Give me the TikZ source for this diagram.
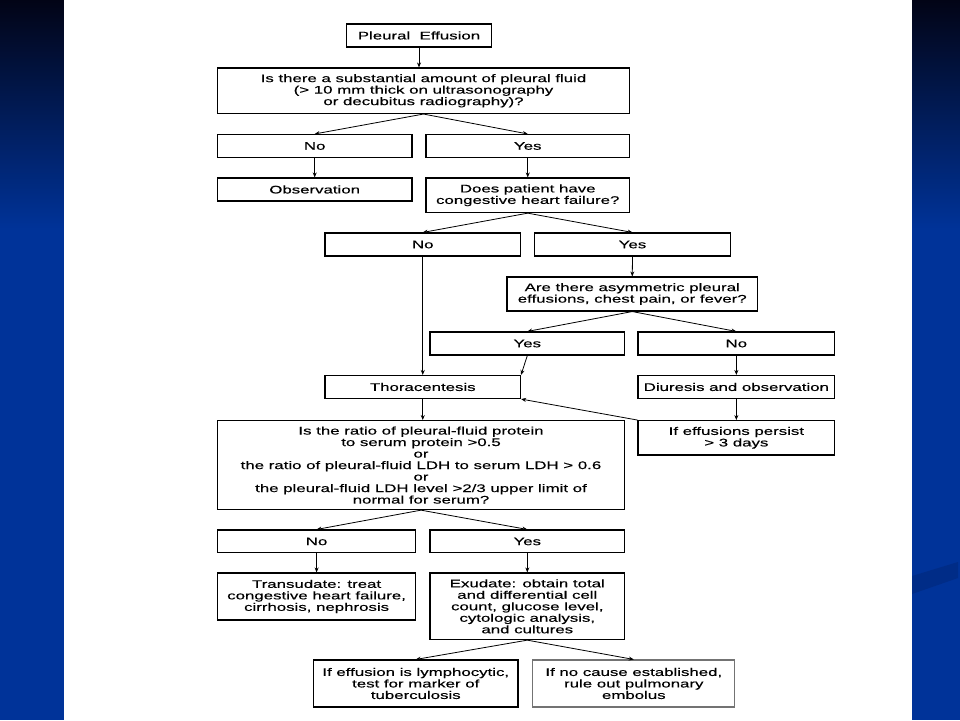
\documentclass[tikz,border=0pt]{standalone}
\usepackage{fontspec}
\newfontfamily\chartfont{Liberation Sans}[FakeStretch=1.53,FakeBold=0.35]
\usetikzlibrary{arrows.meta,calc}
\definecolor{slideblue}{RGB}{0,51,153}
\definecolor{slidetop}{RGB}{2,4,22}
\definecolor{swoosh}{RGB}{0,44,135}
\begin{document}
\begin{tikzpicture}[x=1pt,y=-1pt,
  box/.style={draw=black,line width=1.1pt,fill=white,inner sep=0pt,align=center,
    font=\chartfont\fontsize{11}{11.5}\selectfont},
  graybox/.style={box,draw=black!55},
  conn/.style={line width=0.8pt,-{Stealth[length=5pt,width=4pt]}}]
\useasboundingbox (0,0) rectangle (960,720);
% background
\fill[slideblue] (0,0) rectangle (960,720);
\shade[top color=slidetop,bottom color=slideblue] (0,0) rectangle (960,230);
\fill[swoosh] (912,576) -- (958,562) -- (958,578) -- (912,594) -- cycle;
\fill[white] (64,0) rectangle (912,720);
% nodes
\node[box,minimum width=145pt,minimum height=23pt] (pe) at (419,35.5) {Pleural\ \ Effusion};
\node[box,minimum width=412pt,minimum height=45.5pt] (q1) at (423.5,90.75)
  {Is there a substantial amount of pleural fluid\\(> 10 mm thick on ultrasonography\\or decubitus radiography)?};
\node[box,minimum width=194.6pt,minimum height=23pt] (no1) at (314.7,146) {No};
\node[box,minimum width=203.5pt,minimum height=23pt] (yes1) at (527.75,146) {Yes};
\node[box,minimum width=194.6pt,minimum height=23pt] (obs) at (314.7,189.5) {Observation};
\node[box,minimum width=203.5pt,minimum height=34.6pt] (does) at (527.75,195.3)
  {Does patient have\\congestive heart failure?};
\node[box,minimum width=195.5pt,minimum height=23pt] (no2) at (422.75,244.5) {No};
\node[box,minimum width=196pt,minimum height=23pt] (yes2) at (632.5,244.5) {Yes};
\node[box,minimum width=250.5pt,minimum height=34pt] (are) at (632.25,294)
  {Are there asymmetric pleural\\effusions, chest pain, or fever?};
\node[box,minimum width=194.6pt,minimum height=23pt] (yes3) at (527.3,343.5) {Yes};
\node[box,minimum width=196.7pt,minimum height=23pt] (no3) at (736.35,343.5) {No};
\node[box,minimum width=195.5pt,minimum height=23pt] (thora) at (422.75,387) {Thoracentesis};
\node[box,minimum width=196.7pt,minimum height=23pt] (diur) at (736.35,387) {Diuresis and observation};
\node[box,minimum width=196.7pt,minimum height=34.4pt] (persist) at (736.35,437.8)
  {If effusions persist\\> 3 days};
\node[box,minimum width=407.2pt,minimum height=89pt] (q2) at (421,465.1)
  {Is the ratio of pleural-fluid protein\\to serum protein >0.5\\or\\the ratio of pleural-fluid LDH to serum LDH > 0.6\\or\\the pleural-fluid LDH level >2/3 upper limit of\\normal for serum?};
\node[box,minimum width=198.4pt,minimum height=22.8pt] (no4) at (316.6,541.4) {No};
\node[box,minimum width=194.6pt,minimum height=22.8pt] (yes4) at (527.3,541.4) {Yes};
\node[box,minimum width=198.4pt,minimum height=47pt] (trans) at (316.6,596.5)
  {Transudate: treat\\congestive heart failure,\\cirrhosis, nephrosis};
\node[box,minimum width=194.6pt,minimum height=66.6pt] (exud) at (527.3,606.3)
  {Exudate: obtain total\\and differential cell\\count, glucose level,\\cytologic analysis,\\and cultures};
\node[box,minimum width=204.5pt,minimum height=47pt] (lymph) at (415.75,683.5)
  {If effusion is lymphocytic,\\test for marker of\\tuberculosis};
\node[graybox,minimum width=202pt,minimum height=47pt] (nocause) at (633.8,683.5)
  {If no cause established,\\rule out pulmonary\\embolus};
% connectors
\draw[conn] (pe.south) -- (pe.south |- q1.north);
\draw[conn] (q1.south) -- (no1.north);
\draw[conn] (q1.south) -- (yes1.north);
\draw[conn] (no1.south) -- (obs.north);
\draw[conn] (yes1.south) -- (does.north);
\draw[conn] (does.south) -- (no2.north);
\draw[conn] (does.south) -- (yes2.north);
\draw[conn] (no2.south) -- (thora.north);
\draw[conn] (yes2.south) -- (are.north);
\draw[conn] (are.south) -- (yes3.north);
\draw[conn] (are.south) -- (no3.north);
\draw[conn] (yes3.south) -- (thora.north east);
\draw[conn] (no3.south) -- (diur.north);
\draw[conn] (diur.south) -- (persist.north);
\draw[conn] (persist.north west) -- (thora.south east);
\draw[conn] (thora.south) -- (thora.south |- q2.north);
\draw[conn] (q2.south) -- (no4.north);
\draw[conn] (q2.south) -- (yes4.north);
\draw[conn] (no4.south) -- (trans.north);
\draw[conn] (yes4.south) -- (exud.north);
\draw[conn] (exud.south) -- (lymph.north);
\draw[conn] (exud.south) -- (nocause.north);
\end{tikzpicture}
\end{document}
